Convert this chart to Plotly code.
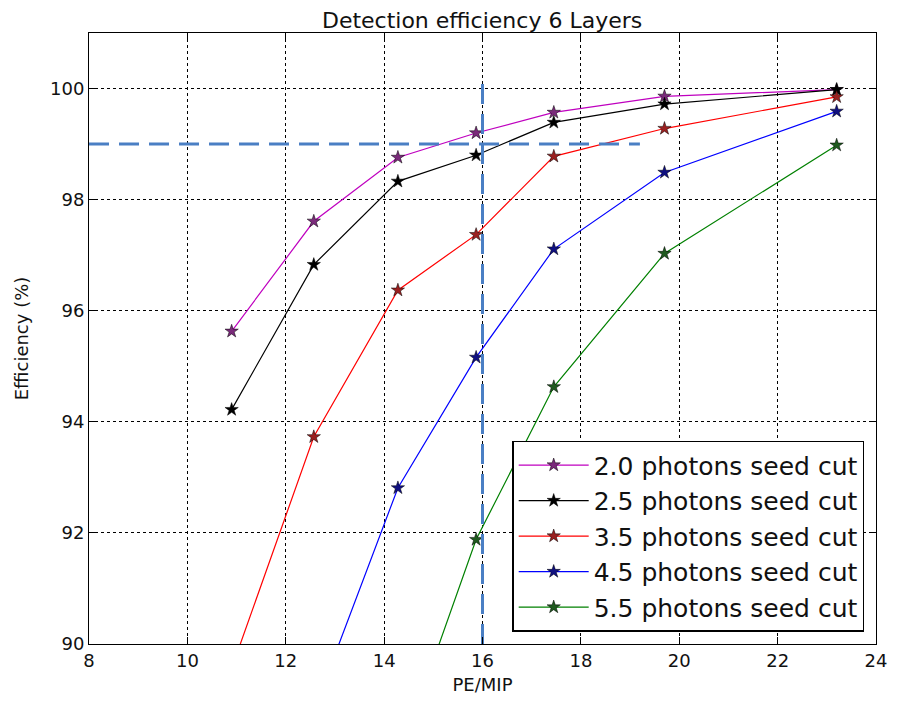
import plotly.graph_objects as go

# PE/MIP values where efficiency was measured
pe_mip = [10.9, 12.57, 14.28, 15.87, 17.45, 19.7, 23.2]

# efficiency (%) per seed cut
eff_2_0 = [95.63, 97.61, 98.76, 99.20, 99.57, 99.86, 99.98]
eff_2_5 = [94.22, 96.83, 98.33, 98.80, 99.39, 99.72, 99.98]
eff_3_5 = [89.56, 93.73, 96.37, 97.37, 98.78, 99.28, 99.85]
eff_4_5 = [86.5, 88.8, 92.81, 95.16, 97.11, 98.49, 99.59]
eff_5_5 = [84.0, 86.0, 87.9, 91.88, 94.63, 97.03, 98.98]

series_names = [
    "2.0 photons seed cut",
    "2.5 photons seed cut",
    "3.5 photons seed cut",
    "4.5 photons seed cut",
    "5.5 photons seed cut",
]
series_values = [eff_2_0, eff_2_5, eff_3_5, eff_4_5, eff_5_5]
line_colors = ["#bf00bf", "#000000", "#ff0000", "#0000ff", "#008000"]
marker_colors = ["#7a2a7a", "#000000", "#9a2020", "#101080", "#1f5a1f"]

# reference lines: 99 % efficiency and 16 PE/MIP
ref_eff = 99
ref_pe = 16
hline_x = [8, 19.2]
vline_y = [90, 100.2]

x_ticks = [8, 10, 12, 14, 16, 18, 20, 22, 24]
y_ticks = [90, 92, 94, 96, 98, 100]

font_family = "DejaVu Sans"

fig = go.Figure()

for i, (name, vals) in enumerate(zip(series_names, series_values)):
    fig.add_trace(
        go.Scatter(
            x=pe_mip,
            y=vals,
            mode="lines+markers",
            name=name,
            legendgroup=f"g{i}",
            line=dict(color=line_colors[i], width=1.2),
            marker=dict(
                symbol="star",
                size=10,
                color=marker_colors[i],
                line=dict(color="#000000", width=0.5),
            ),
        )
    )

# dashed guide lines
fig.add_trace(
    go.Scatter(
        x=hline_x,
        y=[ref_eff, ref_eff],
        mode="lines",
        line=dict(color="#4a7fc4", width=3, dash="20px,10px"),
        showlegend=False,
        hoverinfo="skip",
    )
)
fig.add_trace(
    go.Scatter(
        x=[ref_pe, ref_pe],
        y=vline_y,
        mode="lines",
        line=dict(color="#4a7fc4", width=3, dash="20px,10px"),
        showlegend=False,
        hoverinfo="skip",
    )
)

axis_common = dict(
    showline=True,
    linecolor="#000000",
    linewidth=1,
    mirror="ticks",
    ticks="inside",
    ticklen=7,
    tickcolor="#000000",
    showgrid=True,
    gridcolor="#000000",
    gridwidth=1,
    griddash="dot",
    zeroline=False,
    tickfont=dict(family=font_family, size=18, color="#111111"),
)

fig.update_xaxes(
    range=[8, 24],
    tickvals=x_ticks,
    title=dict(text="PE/MIP", font=dict(family=font_family, size=18, color="#111111"), standoff=8),
    **axis_common,
)
fig.update_yaxes(
    range=[90, 101],
    tickvals=y_ticks,
    title=dict(text="Efficiency (%)", font=dict(family=font_family, size=18, color="#111111"), standoff=16),
    **axis_common,
)

fig.update_layout(
    width=903,
    height=706,
    margin=dict(l=81, r=35, t=25, b=70),
    paper_bgcolor="white",
    plot_bgcolor="white",
    font=dict(family=font_family, color="#111111"),
    title=dict(
        text="Detection efficiency 6 Layers",
        x=0.525,
        xanchor="center",
        yref="container",
        y=0.983,
        yanchor="middle",
        font=dict(family=font_family, size=22, color="#111111"),
    ),
    legend=dict(
        x=0.985,
        xanchor="right",
        y=0.02,
        yanchor="bottom",
        bgcolor="white",
        bordercolor="#000000",
        borderwidth=1.5,
        font=dict(family=font_family, size=25, color="#111111"),
        tracegroupgap=0,
        itemwidth=70,
    ),
)

fig.write_html("out.html")
